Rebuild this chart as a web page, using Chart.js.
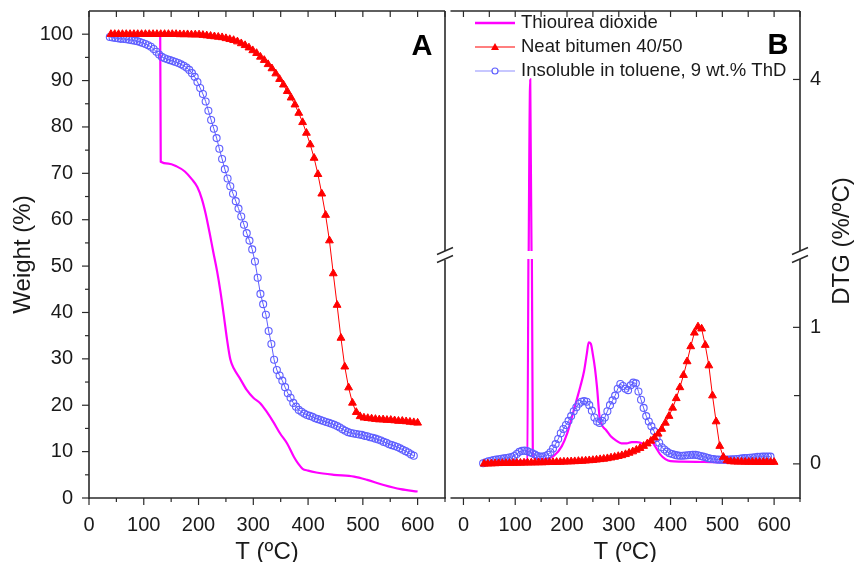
<!DOCTYPE html>
<html>
<head>
<meta charset="utf-8">
<script src="https://cdn.jsdelivr.net/npm/chart.js@4.4.1/dist/chart.umd.min.js"></script>
<style>
  html, body { margin: 0; padding: 0; background: #fff; }
  #wrap { position: relative; width: 854px; height: 562px; overflow: hidden; }
  canvas { position: absolute; top: 0; }
  #chartA { left: 0; }
  #chartB { left: 445px; }
</style>
</head>
<body>
<div id="wrap">
  <canvas id="chartA" width="460" height="562"></canvas>
  <canvas id="chartB" width="409" height="562"></canvas>
</div>
<script>
// --- data ---
const seriesNames = ['Thiourea dioxide', 'Neat bitumen 40/50', 'Insoluble in toluene, 9 wt.% ThD'];

const tempTicks = [0, 100, 200, 300, 400, 500, 600];
const weightTicks = [0, 10, 20, 30, 40, 50, 60, 70, 80, 90, 100];
const dtgLowTicks = [0, 1];
const dtgHighTicks = [4];

// temperatures of the bitumen markers (ºC)
const temps = [
  40, 47, 54, 61, 68, 75, 82, 89, 96, 103,
  110, 117, 124, 131, 138, 145, 152, 159, 166, 173,
  180, 187, 194, 201, 208, 215, 222, 229, 236, 243,
  250, 257, 264, 271, 278, 285, 292, 299, 306, 313,
  320, 327, 334, 341, 348, 355, 362, 369, 376, 383,
  390, 397, 404, 411, 418, 425, 432, 439, 446, 453,
  460, 467, 474, 481, 488, 495, 502, 509, 516, 523,
  530, 537, 544, 551, 558, 565, 572, 579, 586, 593,
  600
];
// temperatures of the insoluble-fraction markers (ºC)
const tempsBlue = [
  38, 43, 48, 53, 58, 63, 68, 73, 78, 83,
  88, 93, 98, 103, 108, 113, 118, 123, 128, 133,
  138, 143, 148, 153, 158, 163, 168, 173, 178, 183,
  188, 193, 198, 203, 208, 213, 218, 223, 228, 233,
  238, 243, 248, 253, 258, 263, 268, 273, 278, 283,
  288, 293, 298, 303, 308, 313, 318, 323, 328, 333,
  338, 343, 348, 353, 358, 363, 368, 373, 378, 383,
  388, 393, 398, 403, 408, 413, 418, 423, 428, 433,
  438, 443, 448, 453, 458, 463, 468, 473, 478, 483,
  488, 493, 498, 503, 508, 513, 518, 523, 528, 533,
  538, 543, 548, 553, 558, 563, 568, 573, 578, 583,
  588, 593
];

// A: weight (%)
const bitumenWeight = [
  100, 100, 100, 100, 100, 100, 100, 100, 100, 100,
  100, 100, 100, 100, 100, 100, 100, 100, 99.95, 99.95,
  99.95, 99.9, 99.9, 99.9, 99.8, 99.7, 99.6, 99.5, 99.4, 99.3,
  99.1, 98.9, 98.7, 98.4, 98.0, 97.6, 97.1, 96.5, 95.9, 95.1,
  94.4, 93.5, 92.6, 91.5, 90.3, 89.1, 87.7, 86.3, 84.8, 83.0,
  81.0, 78.7, 76.2, 73.3, 69.8, 65.6, 61.0, 55.5, 48.4, 41.6,
  34.5, 28.3, 23.8, 20.5, 18.5, 17.6, 17.3, 17.2, 17.1, 17.0,
  16.9, 16.9, 16.8, 16.8, 16.7, 16.6, 16.6, 16.5, 16.4, 16.3,
  16.2
];
const insolubleWeight = [
  99.4, 99.3, 99.2, 99.1, 99.0, 99.0, 98.9, 98.8, 98.7, 98.6,
  98.5, 98.3, 98.1, 97.9, 97.6, 97.3, 96.8, 96.2, 95.6, 95.1,
  94.8, 94.6, 94.4, 94.2, 94.0, 93.8, 93.5, 93.2, 92.8, 92.3,
  91.6, 90.8, 89.7, 88.4, 87.1, 85.5, 83.5, 81.5, 79.6, 77.6,
  75.3, 73.1, 70.9, 68.9, 67.2, 65.6, 64.0, 62.4, 60.7, 58.9,
  57.1, 55.5, 53.6, 51.0, 47.5, 44.0, 41.8, 39.5, 36.0, 33.2,
  29.8, 27.6, 26.4, 25.3, 23.9, 22.6, 21.6, 20.5, 19.7, 19.0,
  18.6, 18.2, 17.9, 17.7, 17.5, 17.2, 17.0, 16.8, 16.6, 16.4,
  16.2, 16.0, 15.8, 15.5, 15.2, 14.8, 14.5, 14.2, 14.0, 13.9,
  13.8, 13.7, 13.6, 13.4, 13.3, 13.1, 13.0, 12.8, 12.6, 12.4,
  12.1, 11.9, 11.6, 11.4, 11.2, 11.0, 10.7, 10.4, 10.1, 9.8,
  9.4, 9.1
];
const thdTempA = [40, 130, 131, 145, 160, 175, 188, 198, 206, 213, 220, 227, 234, 240, 246, 252, 258, 265, 275, 288,
  300, 313, 325, 337, 349, 362, 374, 382, 390, 400, 415, 447, 484, 508, 538, 569, 600];
const thdWeight = [100, 100, 72.5, 72.1, 71.5, 70.4, 68.7, 67.0, 64.5, 61.3, 57.3, 53.0, 48.8, 44.5, 39.5, 34.2, 29.9, 27.8, 25.9, 23.3,
  21.6, 20.4, 18.5, 16.3, 13.9, 11.7, 8.9, 7.4, 6.3, 5.9, 5.5, 5.0, 4.6, 3.9, 2.8, 1.9, 1.4];

// B: DTG (%/ºC)
const bitumenDtg = [
  0, 0.001, 0.002, 0.003, 0.004, 0.005, 0.005, 0.006, 0.006, 0.007,
  0.007, 0.008, 0.008, 0.009, 0.009, 0.010, 0.010, 0.011, 0.012, 0.012,
  0.013, 0.014, 0.015, 0.016, 0.017, 0.018, 0.020, 0.021, 0.023, 0.025,
  0.027, 0.030, 0.033, 0.036, 0.040, 0.045, 0.050, 0.056, 0.062, 0.070,
  0.080, 0.090, 0.102, 0.115, 0.130, 0.148, 0.168, 0.192, 0.220, 0.255,
  0.300, 0.350, 0.410, 0.480, 0.560, 0.650, 0.750, 0.860, 0.960, 1.005,
  0.990, 0.870, 0.720, 0.500, 0.310, 0.130, 0.050, 0.025, 0.018, 0.016,
  0.015, 0.015, 0.014, 0.014, 0.014, 0.013, 0.013, 0.013, 0.013, 0.013,
  0.013
];
const insolubleDtg = [
  0.005, 0.012, 0.018, 0.023, 0.028, 0.031, 0.034, 0.037, 0.040, 0.043,
  0.047, 0.050, 0.058, 0.072, 0.088, 0.095, 0.097, 0.093, 0.085, 0.077,
  0.068, 0.058, 0.053, 0.054, 0.058, 0.067, 0.085, 0.112, 0.145, 0.182,
  0.224, 0.255, 0.285, 0.315, 0.350, 0.385, 0.415, 0.440, 0.455, 0.460,
  0.455, 0.430, 0.390, 0.340, 0.310, 0.300, 0.315, 0.340, 0.385, 0.430,
  0.465, 0.500, 0.550, 0.585, 0.570, 0.550, 0.540, 0.575, 0.595, 0.590,
  0.530, 0.470, 0.410, 0.350, 0.310, 0.275, 0.240, 0.190, 0.155, 0.122,
  0.105, 0.090, 0.078, 0.072, 0.066, 0.062, 0.060, 0.060, 0.061, 0.063,
  0.065, 0.066, 0.066, 0.063, 0.058, 0.053, 0.048, 0.042, 0.038, 0.035,
  0.032, 0.031, 0.030, 0.030, 0.031, 0.032, 0.033, 0.034, 0.036, 0.038,
  0.040, 0.042, 0.043, 0.045, 0.047, 0.049, 0.051, 0.052, 0.053, 0.053,
  0.053, 0.053
];
const thdTempB = [40, 60, 90, 115, 123, 129, 134, 140, 155, 175, 190, 200, 210, 218, 226, 233, 238, 242, 246, 250,
  254, 258, 263, 268, 275, 285, 295, 305, 315, 325, 335, 345, 350, 355, 362, 370, 380, 390, 400, 420,
  450, 480, 520, 560, 600];
const thdDtg = [0.01, 0.015, 0.02, 0.02, 0.03, 4.0, 0.06, 0.04, 0.035, 0.06, 0.13, 0.22, 0.35, 0.46, 0.57, 0.68, 0.80, 0.89, 0.88, 0.80,
  0.70, 0.56, 0.34, 0.28, 0.25, 0.20, 0.17, 0.15, 0.15, 0.16, 0.16, 0.15, 0.13, 0.16, 0.17, 0.13, 0.07, 0.035, 0.02, 0.017,
  0.015, 0.012, 0.01, 0.01, 0.01];

// --- styles ---
const FONT = '"Liberation Sans", Arial, sans-serif';
const magenta = '#ff00ff';
const red = '#ff0000';
const blue = '#5f5fff';
const axisColor = '#2a2a2a';
const BREAK_Y = 255;

Chart.defaults.font.family = FONT;
Chart.defaults.color = '#1a1a1a';

function pairs(xs, ys) {
  return ys.map((v, i) => ({ x: xs[i], y: v }));
}

function line(ctx, x1, y1, x2, y2) {
  ctx.beginPath();
  ctx.moveTo(x1, y1);
  ctx.lineTo(x2, y2);
  ctx.stroke();
}

// minor ticks halfway between the labelled ones
function minorBetween(ticks) {
  const out = [];
  for (let i = 0; i < ticks.length - 1; i++) out.push((ticks[i] + ticks[i + 1]) / 2);
  return out;
}

function breakMarks(ctx, x, y) {
  ctx.save();
  ctx.lineWidth = 1.4;
  ctx.strokeStyle = axisColor;
  line(ctx, x - 8, y - 0.5, x + 8, y - 7.5);
  line(ctx, x - 8, y + 7.5, x + 8, y + 0.5);
  ctx.restore();
}

function tempAxisTicks(ctx, a, x) {
  ctx.lineWidth = 1.2;
  tempTicks.forEach(v => {
    const px = x.getPixelForValue(v);
    line(ctx, px, a.bottom, px, a.bottom + 7);
    line(ctx, px, a.top, px, a.top + 6);
  });
  minorBetween(tempTicks).concat([650]).forEach(v => {
    const px = x.getPixelForValue(v);
    line(ctx, px, a.bottom, px, a.bottom + 4);
    line(ctx, px, a.top, px, a.top + 6);
  });
}

const fixedTicks = list => scale => { scale.ticks = list.map(v => ({ value: v })); };

const tickFont = { size: 20 };

// frame, ticks and panel letter for A
const frameA = {
  id: 'frameA',
  afterDraw(chart) {
    const { ctx, chartArea: a, scales: { x, y } } = chart;
    ctx.save();
    ctx.strokeStyle = axisColor;
    ctx.lineWidth = 1.6;
    line(ctx, a.left, a.top, a.right, a.top);
    line(ctx, a.left, a.top, a.left, a.bottom + 1);
    line(ctx, a.left, a.bottom, a.right + 1, a.bottom);
    line(ctx, a.right, a.top, a.right, BREAK_Y - 4);
    line(ctx, a.right, BREAK_Y + 5, a.right, a.bottom);
    breakMarks(ctx, a.right, BREAK_Y);
    tempAxisTicks(ctx, a, x);
    weightTicks.forEach(v => {
      const py = y.getPixelForValue(v);
      line(ctx, a.left - 7, py, a.left, py);
    });
    minorBetween(weightTicks).forEach(v => {
      const py = y.getPixelForValue(v);
      line(ctx, a.left - 4, py, a.left, py);
    });
    ctx.fillStyle = '#000';
    ctx.font = 'bold 29px ' + FONT;
    ctx.textAlign = 'center';
    ctx.textBaseline = 'middle';
    ctx.fillText('A', 422, 47);
    ctx.restore();
  }
};

// keep each DTG dataset inside its own axis segment
const segmentClip = {
  id: 'segmentClip',
  beforeDatasetDraw(chart, args) {
    const ys = chart.scales[args.meta.yAxisID];
    const a = chart.chartArea;
    const top = args.meta.yAxisID === 'yLow' ? ys.top + 4 : ys.top;
    const bottom = args.meta.yAxisID === 'yHigh' ? ys.bottom - 4 : ys.bottom;
    chart.ctx.save();
    chart.ctx.beginPath();
    chart.ctx.rect(a.left - 10, top, a.right - a.left + 10, bottom - top);
    chart.ctx.clip();
  },
  afterDatasetDraw(chart) {
    chart.ctx.restore();
  }
};

const frameB = {
  id: 'frameB',
  afterDraw(chart) {
    const { ctx, chartArea: a, scales: { x, yLow, yHigh } } = chart;
    const by = yLow.top;
    ctx.save();
    ctx.strokeStyle = axisColor;
    ctx.lineWidth = 1.6;
    line(ctx, a.left, a.top, a.right, a.top);
    line(ctx, a.left, a.bottom, a.right, a.bottom);
    line(ctx, a.right, a.top, a.right, by - 4);
    line(ctx, a.right, by + 4, a.right, a.bottom + 1);
    breakMarks(ctx, a.right, by);
    tempAxisTicks(ctx, a, x);
    ctx.lineWidth = 1.2;
    [0, 1].forEach(v => {
      const py = yLow.getPixelForValue(v);
      line(ctx, a.right - 7, py, a.right, py);
    });
    const half = yLow.getPixelForValue(0.5);
    line(ctx, a.right - 6, half, a.right, half);
    dtgHighTicks.forEach(v => {
      const py = yHigh.getPixelForValue(v);
      line(ctx, a.right - 7, py, a.right, py);
    });

    // axis title on the right, reading upwards
    ctx.fillStyle = '#1a1a1a';
    ctx.font = '24px ' + FONT;
    ctx.textAlign = 'center';
    ctx.textBaseline = 'middle';
    ctx.save();
    ctx.translate(397, 241);
    ctx.rotate(-Math.PI / 2);
    ctx.fillText('DTG (%/ºC)', 0, 0);
    ctx.restore();

    // panel letter
    ctx.fillStyle = '#000';
    ctx.font = 'bold 29px ' + FONT;
    ctx.fillText('B', 333, 46);

    // legend
    const rows = [
      { color: magenta, width: 2.6, marker: null },
      { color: red, width: 1.2, marker: 'triangle' },
      { color: '#8f8fff', width: 1.2, marker: 'circle' }
    ];
    ctx.font = '18.5px ' + FONT;
    ctx.textAlign = 'left';
    rows.forEach((r, i) => {
      const ly = 23 + i * 24;
      ctx.strokeStyle = r.color;
      ctx.lineWidth = r.width;
      line(ctx, 30, ly, 70, ly);
      if (r.marker === 'triangle') {
        ctx.fillStyle = red;
        ctx.beginPath();
        ctx.moveTo(50, ly - 4);
        ctx.lineTo(54, ly + 3);
        ctx.lineTo(46, ly + 3);
        ctx.closePath();
        ctx.fill();
      } else if (r.marker === 'circle') {
        ctx.fillStyle = '#fff';
        ctx.strokeStyle = blue;
        ctx.beginPath();
        ctx.arc(50, ly, 3, 0, Math.PI * 2);
        ctx.fill();
        ctx.stroke();
      }
      ctx.fillStyle = '#1a1a1a';
      ctx.fillText(seriesNames[i], 76, ly);
    });
    ctx.restore();
  }
};

const baseX = (min) => ({
  type: 'linear',
  min: min,
  max: 650,
  afterBuildTicks: fixedTicks(tempTicks),
  afterFit: s => { s.height = 64; s.paddingLeft = 0; s.paddingRight = 0; },
  grid: { display: false, drawTicks: false },
  border: { display: false },
  ticks: { padding: 15, font: tickFont, maxRotation: 0, autoSkip: false },
  title: { display: true, text: 'T (ºC)', font: { size: 24, lineHeight: 1 }, padding: { top: 0, bottom: -2 } }
});

const bitumenStyle = {
  borderColor: red, backgroundColor: red,
  borderWidth: 1, pointStyle: 'triangle', pointRadius: 4.5,
  pointBackgroundColor: red, pointBorderColor: red, pointBorderWidth: 1,
  order: 0
};
const insolubleStyle = {
  borderColor: blue, backgroundColor: 'rgba(0,0,0,0)',
  borderWidth: 1, pointStyle: 'circle', pointRadius: 3.5,
  pointBackgroundColor: 'rgba(255,255,255,0)', pointBorderColor: blue, pointBorderWidth: 1.1,
  order: 1
};
const thdStyle = {
  borderColor: magenta, borderWidth: 2.2, pointRadius: 0,
  cubicInterpolationMode: 'monotone',
  order: 2
};

new Chart(document.getElementById('chartA'), {
  type: 'line',
  data: {
    datasets: [
      Object.assign({ label: seriesNames[1], data: pairs(temps, bitumenWeight) }, bitumenStyle),
      Object.assign({ label: seriesNames[2], data: pairs(tempsBlue, insolubleWeight) }, insolubleStyle),
      Object.assign({ label: seriesNames[0], data: pairs(thdTempA, thdWeight) }, thdStyle)
    ]
  },
  options: {
    responsive: false,
    animation: false,
    events: [],
    layout: { padding: { left: 0, top: 11, right: 15, bottom: 0 } },
    plugins: { legend: { display: false }, tooltip: { enabled: false } },
    scales: {
      x: baseX(0),
      y: {
        type: 'linear',
        min: 0,
        max: 105,
        afterBuildTicks: fixedTicks(weightTicks),
        afterFit: s => { s.width = 89; s.paddingTop = 0; s.paddingBottom = 0; },
        grid: { display: false, drawTicks: false },
        border: { display: false },
        ticks: { padding: 16, font: tickFont },
        title: { display: true, text: 'Weight (%)', font: { size: 24 }, padding: { top: 9, bottom: 0 } }
      }
    }
  },
  plugins: [frameA]
});

new Chart(document.getElementById('chartB'), {
  type: 'line',
  data: {
    datasets: [
      Object.assign({ label: seriesNames[1], data: pairs(temps, bitumenDtg), yAxisID: 'yLow' }, bitumenStyle),
      Object.assign({ label: seriesNames[2], data: pairs(tempsBlue, insolubleDtg), yAxisID: 'yLow' }, insolubleStyle),
      Object.assign({ label: seriesNames[0], data: pairs(thdTempB, thdDtg), yAxisID: 'yLow' }, thdStyle),
      // same curve again on the upper segment of the broken axis
      Object.assign({ label: seriesNames[0] + ' (upper)', data: pairs(thdTempB, thdDtg), yAxisID: 'yHigh' }, thdStyle)
    ]
  },
  options: {
    responsive: false,
    animation: false,
    events: [],
    layout: { padding: { left: 0, top: 11, right: 0, bottom: 0 } },
    plugins: { legend: { display: false }, tooltip: { enabled: false } },
    scales: {
      x: baseX(-25),
      yHigh: {
        axis: 'y',
        type: 'linear',
        position: 'right',
        stack: 'dtg',
        stackWeight: 244,
        weight: 0,
        min: 2,
        max: 4.78,
        afterBuildTicks: fixedTicks(dtgHighTicks),
        afterFit: s => { s.width = 54; s.paddingTop = 0; s.paddingBottom = 0; },
        grid: { display: false, drawTicks: false },
        border: { display: false },
        ticks: { padding: 10, font: tickFont }
      },
      yLow: {
        axis: 'y',
        type: 'linear',
        position: 'right',
        stack: 'dtg',
        stackWeight: 243,
        weight: 1,
        min: -0.25,
        max: 1.53,
        afterBuildTicks: fixedTicks(dtgLowTicks),
        afterFit: s => { s.width = 54; s.paddingTop = 0; s.paddingBottom = 0; },
        grid: { display: false, drawTicks: false },
        border: { display: false },
        ticks: { padding: 10, font: tickFont }
      }
    }
  },
  plugins: [segmentClip, frameB]
});
</script>
</body>
</html>
